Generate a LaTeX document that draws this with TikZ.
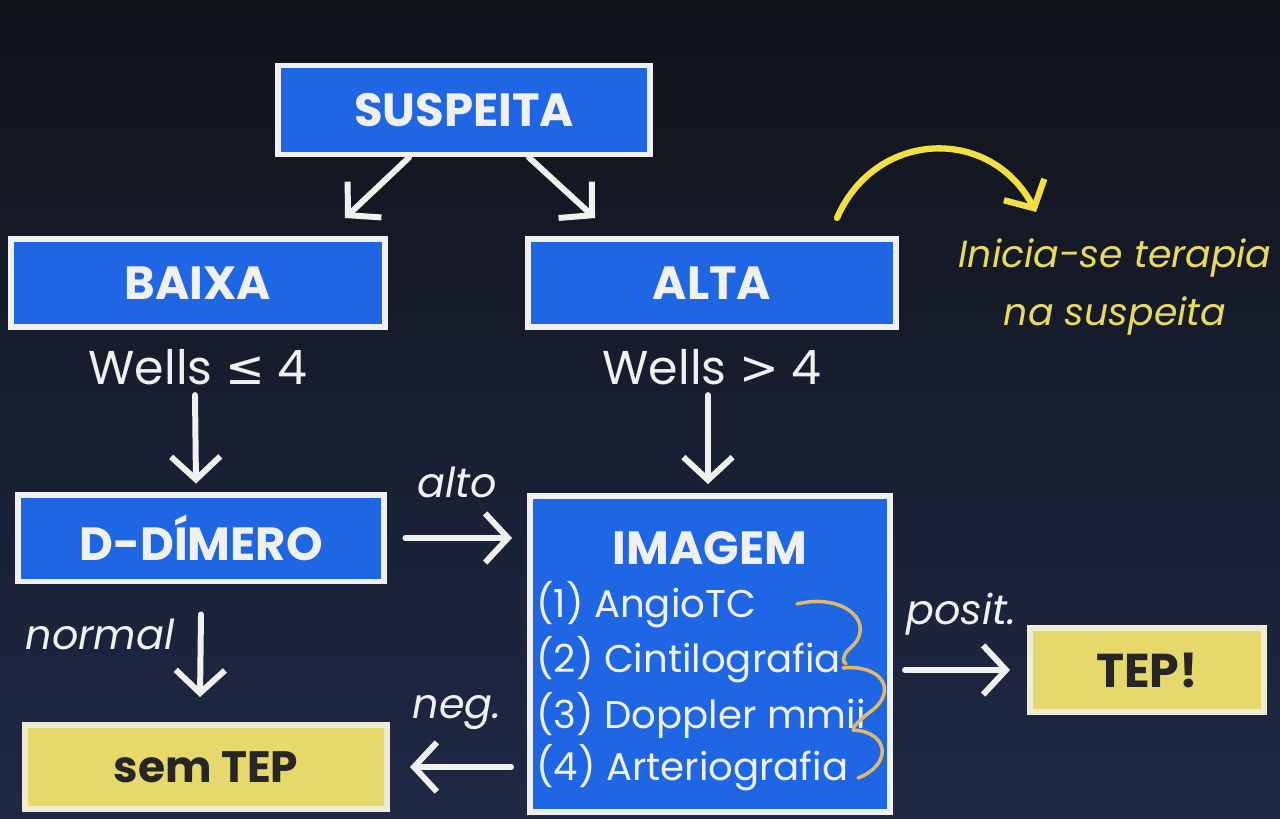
\documentclass[tikz,border=0pt]{standalone}
\usepackage{fontspec}
\setmainfont{Poppins}
\newfontfamily\symfont{DejaVu Sans}
\usetikzlibrary{arrows.meta,calc}
\definecolor{bgtop}{HTML}{111319}
\definecolor{bgbot}{HTML}{1F2946}
\definecolor{boxblue}{HTML}{1E66E4}
\definecolor{chalk}{HTML}{F0F1EE}
\definecolor{boxyellow}{HTML}{E6D86A}
\definecolor{ytext}{HTML}{E9DA5C}
\definecolor{yarrowc}{HTML}{F2E040}
\definecolor{ink}{HTML}{262626}
\definecolor{bracec}{HTML}{E0B868}
\begin{document}
\begin{tikzpicture}[x=0.02cm,y=-0.02cm,
 bluebox/.style={draw=chalk, line width=3.4pt, fill=boxblue, text=chalk, font=\bfseries\fontsize{26.5}{30}\selectfont, inner sep=0pt},
 yelbox/.style={draw=chalk!80!boxyellow, line width=3.4pt, fill=boxyellow, text=ink, font=\bfseries\fontsize{25}{28}\selectfont, inner sep=0pt},
 chalkarrow/.style={draw=chalk, line width=3.4pt, line cap=round, -{Straight Barb[length=13pt,width=28pt]}},
 edgelabel/.style={text=chalk, font=\itshape\fontsize{23.5}{27}\selectfont, inner sep=0pt},
 wells/.style={text=chalk, font=\fontsize{27}{31}\selectfont, inner sep=0pt},
 item/.style={text=chalk, font=\fontsize{22}{27}\selectfont, anchor=west, inner sep=0pt},
 bracestyle/.style={draw=bracec, line width=2pt, line cap=round},
]
\shade[top color=bgtop, bottom color=bgbot] (0,0) rectangle (1280,818);
\useasboundingbox (0,0) rectangle (1280,818);

% boxes
\node[bluebox, minimum width=7.44cm, minimum height=1.78cm] (susp) at (464,110) {SUSPEITA};
\node[bluebox, minimum width=7.48cm, minimum height=1.76cm] (baixa) at (198,283) {BAIXA};
\node[bluebox, minimum width=7.38cm, minimum height=1.76cm] (alta) at (712,283) {ALTA};
\node[bluebox, minimum width=7.34cm, minimum height=1.74cm] (ddim) at (201,538) {D-DÍMERO};
\node[bluebox, minimum width=7.20cm, minimum height=6.32cm] (img) at (710,654) {};
\node[yelbox, minimum width=7.24cm, minimum height=1.68cm] (sem) at (206,767) {sem TEP};
\node[yelbox, minimum width=4.68cm, minimum height=1.68cm, font=\bfseries\fontsize{27}{30}\selectfont] (tep) at (1147,670) {TEP!};

% IMAGEM content
\node[text=chalk, font=\bfseries\fontsize{26.5}{30}\selectfont, inner sep=0pt] (imgtitle) at (710,548) {IMAGEM};
\node[item] (i1) at (536,605) {(1) AngioTC};
\node[item] (i2) at (536,660) {(2) Cintilografia};
\node[item] (i3) at (536,715) {(3) Doppler mmii};
\node[item] (i4) at (536,768) {(4) Arteriografia};

% Wells labels
\node[wells] (wl) at (198,367) {Wells {\symfont ≤} 4};
\node[wells] (wh) at (712,367) {Wells {\symfont >} 4};

% edge labels
\node[edgelabel] (lalto) at (457,482) {alto};
\node[edgelabel] (lnormal) at (100,634) {normal};
\node[edgelabel] (lneg) at (457,713) {neg.};
\node[edgelabel] (lposit) at (961,614) {posit.};

% yellow note
\node[text=ytext, font=\itshape\fontsize{21.5}{33}\selectfont, align=center, inner sep=0pt] (inicia) at (1115,287) {Inicia-se terapia\\na suspeita};

% connectors
\draw[chalkarrow] ([xshift=-1.1cm]susp.south) -- ([xshift=2.94cm,yshift=0.36cm]baixa.north);
\draw[chalkarrow] ([xshift=1.3cm]susp.south) -- ([xshift=-2.34cm,yshift=0.36cm]alta.north);
\draw[chalkarrow] ([xshift=-0.06cm,yshift=-0.2cm]wl.south) -- ([xshift=-0.1cm,yshift=0.16cm]ddim.north);
\draw[chalkarrow] ([xshift=-0.08cm,yshift=-0.2cm]wh.south) -- ([xshift=-0.04cm,yshift=0.18cm]img.north);
\draw[chalkarrow, shorten <=0.36cm, shorten >=0.3cm] (ddim.east) -- (ddim.east -| img.west);
\draw[chalkarrow] ([yshift=-0.6cm]ddim.south) -- ([xshift=-0.12cm,yshift=0.5cm]sem.north);
\draw[chalkarrow, shorten <=0.32cm, shorten >=0.4cm] (img.west |- sem.east) -- (sem.east);
\draw[chalkarrow, shorten <=0.24cm, shorten >=0.34cm] (img.east |- tep.west) -- (tep.west);

% yellow curved arrow
\coordinate (ystart) at (837,218);
\coordinate (yend) at (1036,212);
\draw[draw=yarrowc, line width=3.6pt, line cap=round, -{Straight Barb[length=12pt,width=26pt]}]
  (ystart) .. controls (875,130) and (990,125) .. (yend);

% hand-drawn braces
\draw[bracestyle] (797,604) .. controls (845,592) and (880,625) .. (848,650) .. controls (843,655) and (842,662) .. (846,664);
\draw[bracestyle] (843,668) .. controls (880,664) and (900,690) .. (870,712) .. controls (862,718) and (856,724) .. (853,728);
\draw[bracestyle] (853,730) .. controls (890,732) and (892,765) .. (858,778);
\end{tikzpicture}
\end{document}
